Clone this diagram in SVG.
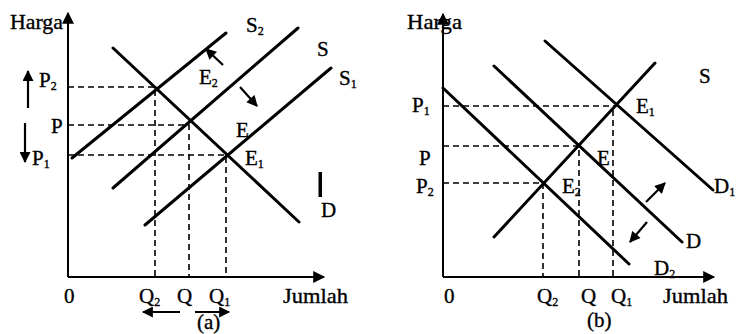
<svg xmlns="http://www.w3.org/2000/svg" width="736" height="334" viewBox="0 0 736 334">
<defs>
<marker id="ah" viewBox="0 0 10 10" refX="9" refY="5" markerWidth="5.5" markerHeight="5" orient="auto" markerUnits="strokeWidth"><path d="M0,0 L10,5 L0,10 Z" fill="#000"/></marker>
<marker id="axh" viewBox="0 0 10 10" refX="9" refY="5" markerWidth="7" markerHeight="6" orient="auto" markerUnits="strokeWidth"><path d="M0,0 L10,5 L0,10 Z" fill="#000"/></marker>
</defs>
<style>
.ax{stroke:#000;stroke-width:2;fill:none}
.cv{stroke:#000;stroke-width:3;fill:none;stroke-linecap:round}
.ds{stroke:#000;stroke-width:1.6;stroke-dasharray:6,4;fill:none}
.sa{stroke:#000;stroke-width:2.2;fill:none}
text{font-family:'Liberation Serif','Times New Roman',Times,serif;font-size:21px;fill:#000;stroke:#000;stroke-width:0.35}
.sb{font-size:12px}
</style>
<rect width="736" height="334" fill="#fff"/>
<g id="connectors">
<line class="ax" x1="68" y1="277" x2="68" y2="13" marker-end="url(#axh)"/>
<line class="ax" x1="68" y1="277" x2="324" y2="277" marker-end="url(#axh)"/>
<polyline class="ds" points="68,87 155,87 155,277"/>
<polyline class="ds" points="68,125 189,125 189,277"/>
<polyline class="ds" points="68,155 226,155 226,277"/>
<line class="cv" x1="72" y1="158" x2="226" y2="33"/>
<line class="cv" x1="113" y1="188" x2="298" y2="28"/>
<line class="cv" x1="145" y1="225" x2="331" y2="68"/>
<line class="cv" x1="113" y1="48" x2="299" y2="222"/>
<line class="sa" x1="223" y1="65" x2="206" y2="49" marker-end="url(#ah)"/>
<line class="sa" x1="240" y1="87" x2="257" y2="106" marker-end="url(#ah)"/>
<line class="sa" x1="28" y1="108" x2="28" y2="71" marker-end="url(#ah)"/>
<line class="sa" x1="25" y1="123" x2="25" y2="162" marker-end="url(#ah)"/>
<line class="sa" x1="180" y1="312" x2="143" y2="312" marker-end="url(#ah)"/>
<line class="sa" x1="195" y1="312" x2="229" y2="312" marker-end="url(#ah)"/>
<line class="ax" x1="443" y1="277" x2="443" y2="14" marker-end="url(#axh)"/>
<line class="ax" x1="443" y1="277" x2="714" y2="277" marker-end="url(#axh)"/>
<polyline class="ds" points="443,106 617,106"/>
<line class="ds" x1="613" y1="110" x2="613" y2="277"/>
<polyline class="ds" points="443,146 579,146 579,277"/>
<polyline class="ds" points="443,183 543,183 543,277"/>
<line class="cv" x1="443" y1="88" x2="629" y2="264"/>
<line class="cv" x1="494" y1="66" x2="682" y2="242"/>
<line class="cv" x1="545" y1="41" x2="713" y2="190"/>
<line class="cv" x1="494" y1="237" x2="655" y2="63"/>
<line class="sa" x1="646" y1="202" x2="665" y2="183" marker-end="url(#ah)"/>
<line class="sa" x1="647" y1="222" x2="630" y2="242" marker-end="url(#ah)"/>
</g>
<g id="labels-a">
<text x="10" y="29" textLength="53" lengthAdjust="spacingAndGlyphs">Harga</text>
<text x="246" y="32">S<tspan class="sb" dy="3">2</tspan></text>
<text x="317" y="56">S</text>
<text x="339" y="85">S<tspan class="sb" dy="3">1</tspan></text>
<text x="199" y="84">E<tspan class="sb" dy="3">2</tspan></text>
<text x="236" y="137">E</text>
<text x="245" y="165">E<tspan class="sb" dy="3">1</tspan></text>
<text x="39" y="87">P<tspan class="sb" dy="3">2</tspan></text>
<text x="51" y="133">P</text>
<text x="32" y="165">P<tspan class="sb" dy="3">1</tspan></text>
<rect x="318.5" y="172" width="3.5" height="25" fill="#000"/>
<text x="321" y="217">D</text>
<text x="64" y="303">0</text>
<text x="139" y="303">Q<tspan class="sb" dy="3">2</tspan></text>
<text x="177" y="303">Q</text>
<text x="209" y="303">Q<tspan class="sb" dy="3">1</tspan></text>
<text x="283" y="303" textLength="65" lengthAdjust="spacingAndGlyphs">Jumlah</text>
<text x="197" y="329">(a)</text>
</g>
<g id="labels-b">
<text x="407" y="29" textLength="55" lengthAdjust="spacingAndGlyphs">Harga</text>
<text x="699" y="83">S</text>
<text x="636" y="113">E<tspan class="sb" dy="3">1</tspan></text>
<text x="597" y="165">E</text>
<text x="562" y="193">E<tspan class="sb" dy="3">2</tspan></text>
<text x="412" y="112">P<tspan class="sb" dy="3">1</tspan></text>
<text x="419" y="165">P</text>
<text x="416" y="193">P<tspan class="sb" dy="3">2</tspan></text>
<text x="714" y="193">D<tspan class="sb" dy="3">1</tspan></text>
<text x="686" y="248">D</text>
<text x="654" y="275">D<tspan class="sb" dy="3">2</tspan></text>
<text x="444" y="303">0</text>
<text x="537" y="303">Q<tspan class="sb" dy="3">2</tspan></text>
<text x="581" y="303">Q</text>
<text x="611" y="303">Q<tspan class="sb" dy="3">1</tspan></text>
<text x="663" y="303" textLength="65" lengthAdjust="spacingAndGlyphs">Jumlah</text>
<text x="587" y="327">(b)</text>
</g>
</svg>
